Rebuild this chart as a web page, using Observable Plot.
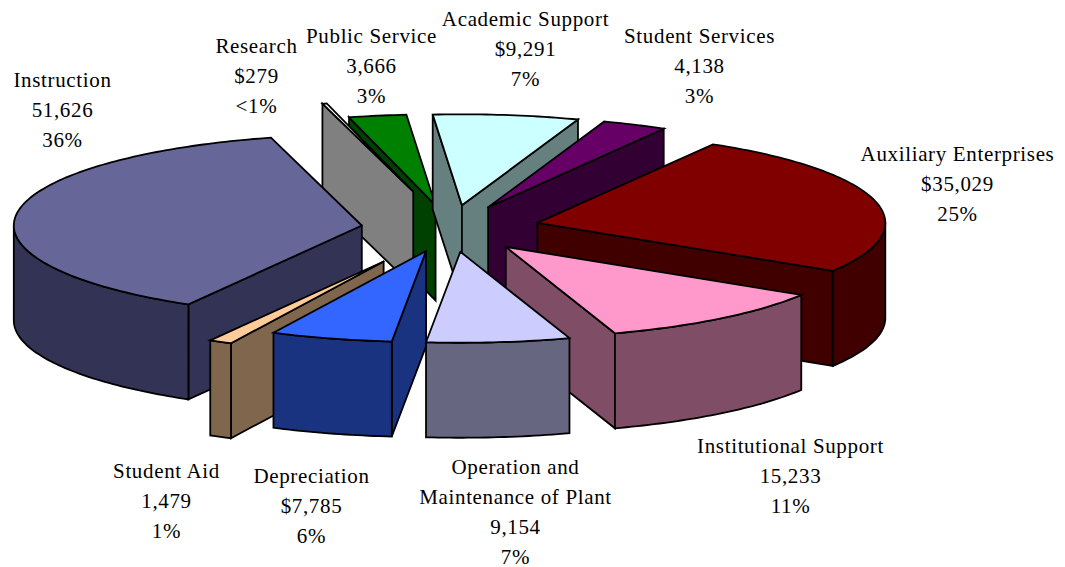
<!DOCTYPE html>
<html>
<head>
<meta charset="utf-8">
<script src="https://cdn.jsdelivr.net/npm/d3@7"></script>
<script src="https://cdn.jsdelivr.net/npm/@observablehq/plot@0.6"></script>
<style>html,body{margin:0;padding:0;background:#fff}svg{display:block}</style>
</head>
<body>
<div id="chart"></div>
<script>
// Data, clockwise from the start of Auxiliary Enterprises
const categories = ["Auxiliary Enterprises","Institutional Support","Operation and\nMaintenance of Plant","Depreciation","Student Aid","Instruction","Research","Public Service","Academic Support","Student Services"];
const values = [35029,15233,9154,7785,1479,51626,279,3666,9291,4138];
const valueLabels = ["$35,029","15,233","9,154","$7,785","1,479","51,626","$279","3,666","$9,291","4,138"];
const percentLabels = ["25%","11%","7%","6%","1%","36%","<1%","3%","7%","3%"];

// Styling
const topColors = ["#800000","#FF99CC","#CCCCFF","#3366FF","#FFCC99","#666699","#FFFFFF","#008000","#CCFFFF","#660066"];
const wallColors = ["#400000","#804D66","#666680","#1A3380","#80664D","#333355","#808080","#004000","#668080","#330033"];
const explosions = [0.257,0.257,0.257,0.257,0.41,0.257,0.42,0.257,0.257,0.257];
const paintOrder = [7,6,8,9,0,5,1,4,3,2];
const labelX = [957,790,515,311,166,62,256,371,525,699];
const labelY = [184,476,512,506,501,110,76,66,49,66];

// Pie projection
const W = 1065, H = 567;
const cx = 450, cy = 228, rx = 348, ry = 91, depth = 95, startAngle = 30.3;
const rad = d => d * Math.PI / 180;
const total = d3.sum(values);
let acc = startAngle;
const slices = values.map((v, i) => {
  const a0 = acc, a1 = acc + v / total * 360; acc = a1;
  const mid = rad((a0 + a1) / 2), e = explosions[i];
  const ax = cx + e * rx * Math.sin(mid), ay = cy - e * ry * Math.cos(mid);
  return {i, a0, a1, ax, ay};
});
const rim = (s, t) => ({x: s.ax + rx * Math.sin(rad(t)), y: s.ay - ry * Math.cos(rad(t))});
const down = p => ({x: p.x, y: p.y + depth});
const arc = (s, t0, t1) => {
  const n = Math.max(2, Math.ceil(Math.abs(t1 - t0)));
  return d3.range(n + 1).map(k => rim(s, t0 + (t1 - t0) * k / n));
};
const closed = pts => [...pts, pts[0]];

function facesOf(s) {
  const out = [], apex = {x: s.ax, y: s.ay}, apexB = down(apex);
  const wall = wallColors[s.i];
  const radial = t => {
    const p = rim(s, t);
    out.push({pts: closed([apex, p, down(p), apexB]), fill: wall});
  };
  if (Math.sin(rad(s.a0)) < 0) radial(s.a0);
  if (Math.sin(rad(s.a1)) > 0) radial(s.a1);
  // outer wall: the part of the rim facing the viewer (90..270 deg)
  for (const off of [0, 360]) {
    const t0 = Math.max(s.a0, 90 + off), t1 = Math.min(s.a1, 270 + off);
    if (t1 > t0) {
      const a = arc(s, t0, t1);
      out.push({pts: closed([...a, ...a.map(down).reverse()]), fill: wall});
    }
  }
  out.push({pts: closed([apex, ...arc(s, s.a0, s.a1)]), fill: topColors[s.i]});
  return out;
}

const faces = paintOrder.flatMap(i => facesOf(slices[i]));
const labels = categories.map((c, i) => ({
  text: `${c}\n${valueLabels[i]}\n${percentLabels[i]}`, x: labelX[i], y: labelY[i]
}));

const plot = Plot.plot({
  width: W, height: H,
  margin: 0,
  x: {domain: [0, W], range: [0, W], axis: null},
  y: {domain: [0, H], range: [0, H], axis: null},
  style: {background: "#fff", letterSpacing: "0.65px"},
  marks: [
    ...faces.map(f => Plot.line(f.pts, {
      x: "x", y: "y", fill: f.fill, stroke: "#000", strokeWidth: 1.8,
      strokeLinejoin: "miter", strokeMiterlimit: 4, curve: "linear"
    })),
    Plot.text(labels, {
      x: "x", y: "y", dy: -3, text: "text", fontFamily: "Liberation Serif", fontSize: 21,
      lineHeight: 1.43, textAnchor: "middle", lineAnchor: "middle", fill: "#000"
    })
  ]
});
document.getElementById("chart").appendChild(plot);
</script>
</body>
</html>
